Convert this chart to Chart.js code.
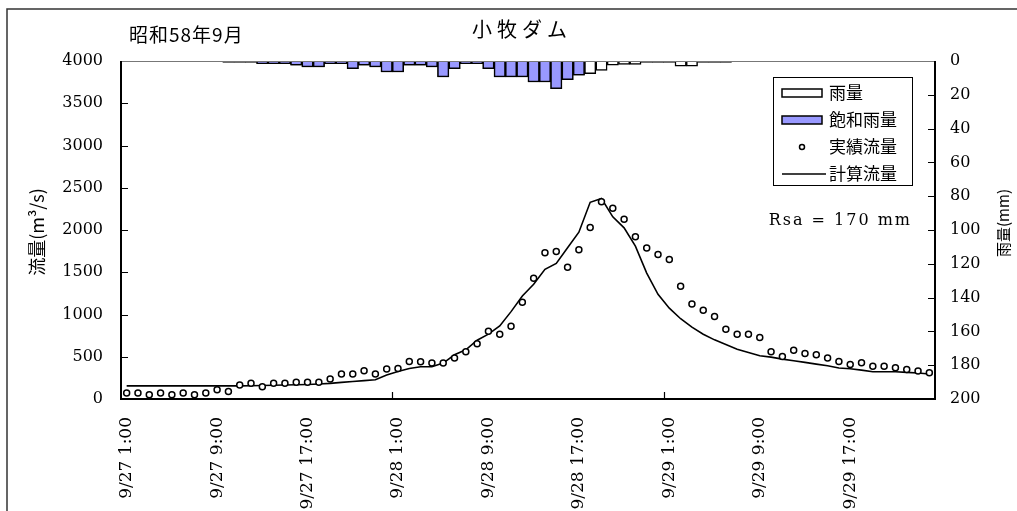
<!DOCTYPE html>
<html lang="ja">
<head>
<meta charset="UTF-8">
<title>小牧ダム 昭和58年9月</title>
<script src="https://cdn.jsdelivr.net/npm/chart.js@4.4.1/dist/chart.umd.min.js"></script>
<style>
    body { margin: 0; background: #fff; }
    #wrap { position: relative; width: 1017px; height: 511px; }
</style>
</head>
<body>
<div id="wrap"><canvas id="damChart"></canvas></div>
<script>
// hourly categories, 9/27 1:00 .. 9/30 0:00
const hourLabels = [];
for (let i = 0; i < 72; i++) {
    const day = 27 + Math.floor((i + 1) / 24);
    const hour = (i + 1) % 24;
    hourLabels.push('9/' + day + ' ' + hour + ':00');
}

// rainfall (mm), total
const rainfall = [
    null, null, null, null, null, null, null, null, null, 0.9,
    0.9, 0.9, 1.6, 1.6, 1.6, 2.5, 3.5, 3.5, 1.6, 1.6,
    4.5, 2.5, 3.5, 6.5, 6.5, 2.5, 2.5, 3.5, 9.4, 4.5,
    1.6, 1.6, 4.5, 9.4, 9.4, 9.4, 12.4, 12.4, 16.3, 11,
    8.4, 7.5, 5.5, 2.5, 2, 2, 0.9, 0.9, 0.9, 3,
    3, 0.9, 0.9, 0.9, null, null, null, null, null, null,
    null, null, null, null, null, null, null, null, null, null,
    null, null
];
// saturated rainfall (mm)
const satRainfall = [
    null, null, null, null, null, null, null, null, null, null,
    null, null, 1.6, 1.6, 1.6, 2.5, 3.5, 3.5, 1.6, 1.6,
    4.5, 2.5, 3.5, 6.5, 6.5, 2.5, 2.5, 3.5, 9.4, 4.5,
    1.6, 1.6, 4.5, 9.4, 9.4, 9.4, 12.4, 12.4, 16.3, 11,
    8.4, null, null, null, null, null, null, null, null, null,
    null, null, null, null, null, null, null, null, null, null,
    null, null, null, null, null, null, null, null, null, null,
    null, null
];
// observed discharge (m3/s)
const observedFlow = [
    71, 71, 51, 71, 51, 71, 51, 71, 110, 90,
    165, 185, 145, 185, 185, 197, 197, 197, 236, 295,
    295, 334, 295, 354, 362, 445, 440, 425, 425, 484,
    558, 653, 802, 767, 861, 1144, 1428, 1731, 1746, 1558,
    1766, 2029, 2333, 2258, 2128, 1920, 1786, 1711, 1652, 1333,
    1125, 1050, 976, 826, 767, 767, 728, 558, 504, 578,
    539, 523, 484, 445, 409, 429, 389, 389, 370, 350,
    330, 311
];
// computed discharge (m3/s)
const calcFlow = [
    155, 155, 155, 155, 155, 155, 155, 155, 155, 155,
    155, 157, 160, 162, 165, 168, 172, 178, 185, 197,
    207, 217, 228, 283, 325, 362, 381, 381, 425, 523,
    582, 696, 767, 865, 1034, 1219, 1357, 1534, 1605, 1790,
    1974, 2328, 2372, 2156, 2026, 1809, 1490, 1239, 1075, 950,
    850, 767, 700, 645, 590, 551, 511, 496, 472, 452,
    433, 413, 393, 366, 358, 342, 322, 322, 322, 315,
    307, 295
];

const flowTicks = [0, 500, 1000, 1500, 2000, 2500, 3000, 3500, 4000];
const rainTicks = [0, 20, 40, 60, 80, 100, 120, 140, 160, 180, 200];
const xTickBoundaries = [24, 48];

const serif = "'DejaVu Serif', 'Noto Sans CJK JP', serif";
const cjk = "'Noto Sans CJK JP', sans-serif";
Chart.defaults.font.family = serif;
Chart.defaults.font.size = 16;
Chart.defaults.color = '#000';

// frame, inward ticks, titles, legend
const decor = {
    id: 'decor',
    afterDraw(chart) {
        const ctx = chart.ctx;
        const a = chart.chartArea;
        const y = chart.scales.y, y2 = chart.scales.y2, x = chart.scales.x;
        ctx.save();

        // outer border
        ctx.strokeStyle = '#333';
        ctx.lineWidth = 1.5;
        ctx.beginPath();
        ctx.moveTo(7, 511); ctx.lineTo(7, 9); ctx.lineTo(1017, 9);
        ctx.stroke();

        // plot frame
        ctx.strokeStyle = '#777';
        ctx.lineWidth = 1;
        ctx.beginPath();
        ctx.moveTo(a.left, a.top + 0.5); ctx.lineTo(a.right, a.top + 0.5);
        ctx.stroke();
        ctx.strokeStyle = '#000';
        ctx.lineWidth = 2;
        ctx.beginPath();
        ctx.moveTo(a.left, a.top); ctx.lineTo(a.left, a.bottom);
        ctx.lineTo(a.right, a.bottom); ctx.lineTo(a.right, a.top);
        ctx.stroke();

        // inward tick marks
        ctx.lineWidth = 1.2;
        ctx.beginPath();
        flowTicks.slice(1, -1).forEach(v => {
            const py = Math.round(y.getPixelForValue(v)) + 0.5;
            ctx.moveTo(a.left, py); ctx.lineTo(a.left + 7, py);
        });
        rainTicks.slice(1, -1).forEach(v => {
            const py = Math.round(y2.getPixelForValue(v)) + 0.5;
            ctx.moveTo(a.right - 7, py); ctx.lineTo(a.right, py);
        });
        xTickBoundaries.forEach(b => {
            const px = Math.round((x.getPixelForValue(b - 1) + x.getPixelForValue(b)) / 2) + 0.5;
            ctx.moveTo(px, a.bottom); ctx.lineTo(px, a.bottom - 7);
        });
        ctx.stroke();

        // titles
        ctx.fillStyle = '#000';
        ctx.textBaseline = 'middle';
        ctx.font = '20px ' + cjk;
        ctx.textAlign = 'center';
        ctx.letterSpacing = '5px';
        ctx.fillText('小牧ダム', 522, 29);
        ctx.letterSpacing = '1px';
        ctx.textAlign = 'left';
        ctx.font = '19px ' + cjk;
        ctx.fillText('昭和58年9月', 129, 35);
        ctx.letterSpacing = '0px';

        // axis titles
        ctx.textAlign = 'center';
        ctx.font = '18px ' + cjk;
        ctx.save();
        ctx.translate(37, 232);
        ctx.rotate(-Math.PI / 2);
        ctx.fillText('流量(m³/s)', 0, 0);
        ctx.restore();
        ctx.font = '15px ' + cjk;
        ctx.save();
        ctx.translate(1003, 223);
        ctx.rotate(-Math.PI / 2);
        ctx.fillText('雨量(mm)', 0, 0);
        ctx.restore();

        // legend
        const lx = 773, ly = 77, lw = 139, lh = 108;
        ctx.fillStyle = '#fff';
        ctx.fillRect(lx, ly, lw, lh);
        ctx.strokeStyle = '#000';
        ctx.lineWidth = 1;
        ctx.strokeRect(lx + 0.5, ly + 0.5, lw, lh);
        const rows = [93, 120, 147, 174];
        ctx.lineWidth = 1.5;
        ctx.fillStyle = '#fff';
        ctx.fillRect(782, rows[0] - 4, 40, 8);
        ctx.strokeRect(782, rows[0] - 4, 40, 8);
        ctx.fillStyle = '#9999ff';
        ctx.fillRect(782, rows[1] - 4, 40, 8);
        ctx.strokeRect(782, rows[1] - 4, 40, 8);
        ctx.beginPath();
        ctx.arc(802, rows[2], 2.5, 0, Math.PI * 2);
        ctx.fillStyle = '#fff';
        ctx.fill();
        ctx.stroke();
        ctx.beginPath();
        ctx.moveTo(782, rows[3]); ctx.lineTo(826, rows[3]);
        ctx.stroke();
        ctx.fillStyle = '#000';
        ctx.textAlign = 'left';
        ctx.font = '17px ' + cjk;
        ['雨量', '飽和雨量', '実績流量', '計算流量'].forEach((t, i) => {
            ctx.fillText(t, 829, rows[i]);
        });

        // Rsa note
        ctx.font = '16px ' + serif;
        ctx.textAlign = 'right';
        ctx.letterSpacing = '2px';
        ctx.fillText('Rsa = 170 mm', 912, 221);
        ctx.restore();
    }
};

new Chart(document.getElementById('damChart'), {
    type: 'bar',
    data: {
        labels: hourLabels,
        datasets: [
            {
                type: 'line',
                label: '計算流量',
                data: calcFlow,
                yAxisID: 'y',
                borderColor: '#000',
                borderWidth: 1.6,
                pointRadius: 0,
                tension: 0,
                order: 2
            },
            {
                type: 'line',
                label: '実績流量',
                data: observedFlow,
                yAxisID: 'y',
                showLine: false,
                pointStyle: 'circle',
                pointRadius: 3,
                pointBorderWidth: 1.5,
                pointBorderColor: '#000',
                pointBackgroundColor: '#fff',
                order: 1
            },
            {
                label: '飽和雨量',
                data: satRainfall,
                yAxisID: 'y2',
                backgroundColor: '#9999ff',
                borderColor: '#000',
                borderWidth: 1.5,
                grouped: false,
                barPercentage: 1,
                categoryPercentage: 1,
                order: 3
            },
            {
                label: '雨量',
                data: rainfall,
                yAxisID: 'y2',
                backgroundColor: '#fff',
                borderColor: '#000',
                borderWidth: 1.5,
                grouped: false,
                barPercentage: 1,
                categoryPercentage: 1,
                order: 4
            }
        ]
    },
    options: {
        responsive: true,
        maintainAspectRatio: false,
        animation: false,
        layout: { padding: { top: 61, left: 0, right: 0, bottom: 0 } },
        plugins: {
            legend: { display: false },
            tooltip: { enabled: false },
            title: { display: false }
        },
        scales: {
            x: {
                grid: { display: false, drawTicks: false },
                border: { display: false },
                ticks: {
                    autoSkip: false,
                    minRotation: 90,
                    maxRotation: 90,
                    padding: 18,
                    font: { size: 17 },
                    callback: (v, i) => (i % 8 === 0 ? hourLabels[i] : '')
                },
                afterFit: s => { s.height = 112; }
            },
            y: {
                position: 'left',
                min: 0,
                max: 4000,
                grid: { display: false, drawTicks: false },
                border: { display: false },
                ticks: { stepSize: 500, padding: 18, callback: v => String(v) },
                afterFit: s => { s.width = 121; }
            },
            y2: {
                position: 'right',
                min: 0,
                max: 200,
                reverse: true,
                grid: { display: false, drawTicks: false },
                border: { display: false },
                ticks: { stepSize: 20, padding: 15, callback: v => String(v) },
                afterFit: s => { s.width = 82; }
            }
        }
    },
    plugins: [decor]
});
</script>
</body>
</html>
